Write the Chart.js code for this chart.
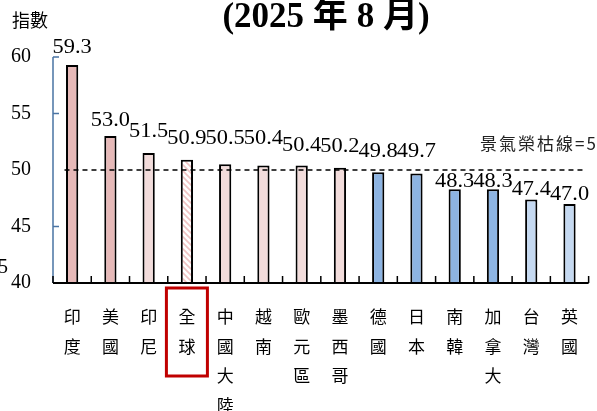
<!DOCTYPE html>
<html>
<head>
<meta charset="utf-8">
<script src="https://cdn.jsdelivr.net/npm/chart.js@4.4.1/dist/chart.umd.min.js"></script>
<style>
  html, body { margin: 0; padding: 0; background: #fff; }
  #wrap { width: 597px; height: 411px; overflow: hidden; }
</style>
</head>
<body>
<div id="wrap"><canvas id="pmi" width="597" height="411"></canvas></div>
<script>
// Manufacturing PMI by economy, August 2025
const categories = ['印度', '美國', '印尼', '全球', '中國大陸', '越南', '歐元區', '墨西哥', '德國', '日本', '南韓', '加拿大', '台灣', '英國'];
const pmiValues  = [59.3, 53.0, 51.5, 50.9, 50.5, 50.4, 50.4, 50.2, 49.8, 49.7, 48.3, 48.3, 47.4, 47.0];
const yTicks     = [40, 45, 50, 55, 60];
const threshold  = 50;
const titleText  = '(2025 年 8 月)';
const yAxisTitle = '指數';
const thresholdLabel = '景氣榮枯線=50';
const globalName = '全球';

// styling
const SERIF = '"Liberation Serif", "Times New Roman", serif';
const CJK = '"Noto Sans CJK TC", "Noto Sans CJK SC", sans-serif';
const PINK_DARK = '#E6B9B8';
const PINK_LIGHT = '#F2DCDB';
const BLUE = '#8DB4E2';
const BLUE_LIGHT = '#C5D9F1';
// gap in px between each value label baseline and its bar top
const labelLift = [12, 10, 16, 16, 20, 21, 14, 16, 15, 16, 2, 2, 4, 4];

function hatchPattern() {
  const t = document.createElement('canvas');
  t.width = 6; t.height = 6;
  const c = t.getContext('2d');
  c.fillStyle = '#ffffff';
  c.fillRect(0, 0, 6, 6);
  c.strokeStyle = '#EFC3C3';
  c.lineWidth = 1.6;
  c.beginPath();
  c.moveTo(-1, -1); c.lineTo(7, 7);
  c.moveTo(-4, 2); c.lineTo(1, 7);
  c.moveTo(5, -1); c.lineTo(8, 2);
  c.stroke();
  return document.getElementById('pmi').getContext('2d').createPattern(t, 'repeat');
}

function barFill(name, i) {
  if (name === globalName) return hatchPattern();
  if (i < 2) return PINK_DARK;
  const v = pmiValues[i];
  if (v >= threshold) return PINK_LIGHT;
  if (v >= 48) return BLUE;
  return BLUE_LIGHT;
}

const decor = {
  id: 'decor',
  beforeDatasetsDraw(chart) {
    const { ctx, chartArea: a, scales: { y } } = chart;
    ctx.save();
    // y axis line and inner ticks
    ctx.strokeStyle = '#4A74A4';
    ctx.lineWidth = 1.5;
    ctx.beginPath();
    ctx.moveTo(a.left, y.getPixelForValue(60));
    ctx.lineTo(a.left, a.bottom);
    [60, 55, 45].forEach(v => {
      const py = y.getPixelForValue(v);
      ctx.moveTo(a.left, py);
      ctx.lineTo(a.left + 6, py);
    });
    ctx.stroke();
    ctx.restore();
  },
  afterDatasetsDraw(chart) {
    const { ctx, chartArea: a, scales: { x, y } } = chart;
    ctx.save();
    // x axis line with ticks between categories
    ctx.strokeStyle = '#000';
    ctx.lineWidth = 2;
    ctx.beginPath();
    ctx.moveTo(a.left, a.bottom);
    ctx.lineTo(a.right, a.bottom);
    ctx.stroke();
    ctx.lineWidth = 1.5;
    ctx.beginPath();
    for (let i = 0; i <= categories.length; i++) {
      const px = x.getPixelForValue(i - 0.5);
      ctx.moveTo(px, a.bottom);
      ctx.lineTo(px, a.bottom - 7);
    }
    ctx.stroke();

    // threshold line
    const ty = y.getPixelForValue(threshold);
    ctx.setLineDash([5, 4]);
    ctx.lineWidth = 1.5;
    ctx.beginPath();
    ctx.moveTo(x.getPixelForValue(-0.2), ty);
    ctx.lineTo(a.right - 6, ty);
    ctx.stroke();
    ctx.setLineDash([]);

    // value labels, slightly widened serif figures
    const meta = chart.getDatasetMeta(0);
    ctx.fillStyle = '#000';
    ctx.font = '20px ' + SERIF;
    ctx.textAlign = 'center';
    ctx.textBaseline = 'alphabetic';
    meta.data.forEach((bar, i) => {
      ctx.save();
      ctx.translate(bar.x, bar.y - labelLift[i]);
      ctx.scale(1.12, 1);
      ctx.fillText(pmiValues[i].toFixed(1), 0, 0);
      ctx.restore();
    });

    // threshold label
    ctx.fillStyle = '#222';
    ctx.font = '17px ' + CJK;
    ctx.textAlign = 'left';
    ctx.textBaseline = 'middle';
    ctx.letterSpacing = '2px';
    ctx.fillText(thresholdLabel, 480, ty - 26);
    ctx.letterSpacing = '0px';

    // title
    ctx.fillStyle = '#000';
    ctx.font = 'bold 35px ' + SERIF + ', ' + CJK;
    ctx.textAlign = 'center';
    ctx.textBaseline = 'alphabetic';
    ctx.fillText(titleText, 326, 27);

    // y axis title
    ctx.font = '18px ' + CJK;
    ctx.textAlign = 'left';
    ctx.textBaseline = 'middle';
    ctx.fillText(yAxisTitle, 12, 20);

    // partial tick label at the left edge
    ctx.font = '20px ' + SERIF;
    ctx.textAlign = 'right';
    ctx.fillText('45', 8, 268);

    // highlight box around the global category
    const gi = categories.indexOf(globalName);
    const gx = x.getPixelForValue(gi);
    ctx.strokeStyle = '#C00000';
    ctx.lineWidth = 3;
    ctx.strokeRect(gx - 20.5, 288, 41, 88);
    ctx.restore();
  }
};

new Chart(document.getElementById('pmi'), {
  type: 'bar',
  data: {
    labels: categories.map(c => Array.from(c)),
    datasets: [{
      data: pmiValues,
      backgroundColor: categories.map((c, i) => barFill(c, i)),
      borderColor: '#000',
      borderWidth: 2,
      borderSkipped: 'bottom',
      categoryPercentage: 1,
      barPercentage: 0.32
    }]
  },
  options: {
    responsive: false,
    devicePixelRatio: 1,
    animation: false,
    layout: { padding: { top: 57, right: 0, left: 0, bottom: 0 } },
    plugins: { legend: { display: false }, tooltip: { enabled: false }, title: { display: false } },
    scales: {
      x: {
        offset: true,
        grid: { display: false, drawTicks: false },
        border: { display: false },
        ticks: {
          autoSkip: false, maxRotation: 0, minRotation: 0,
          color: '#000',
          padding: 19,
          font: { family: CJK, size: 17, lineHeight: '29.5px' }
        },
        afterFit: s => { s.height = 128; }
      },
      y: {
        min: 40, max: 60,
        afterBuildTicks: s => { s.ticks = yTicks.map(v => ({ value: v })); },
        grid: { display: false, drawTicks: false },
        border: { display: false },
        ticks: {
          color: '#000',
          padding: 22,
          font: { family: SERIF, size: 20 }
        },
        afterFit: s => { s.width = 53; }
      }
    }
  },
  plugins: [decor]
});
</script>
</body>
</html>
